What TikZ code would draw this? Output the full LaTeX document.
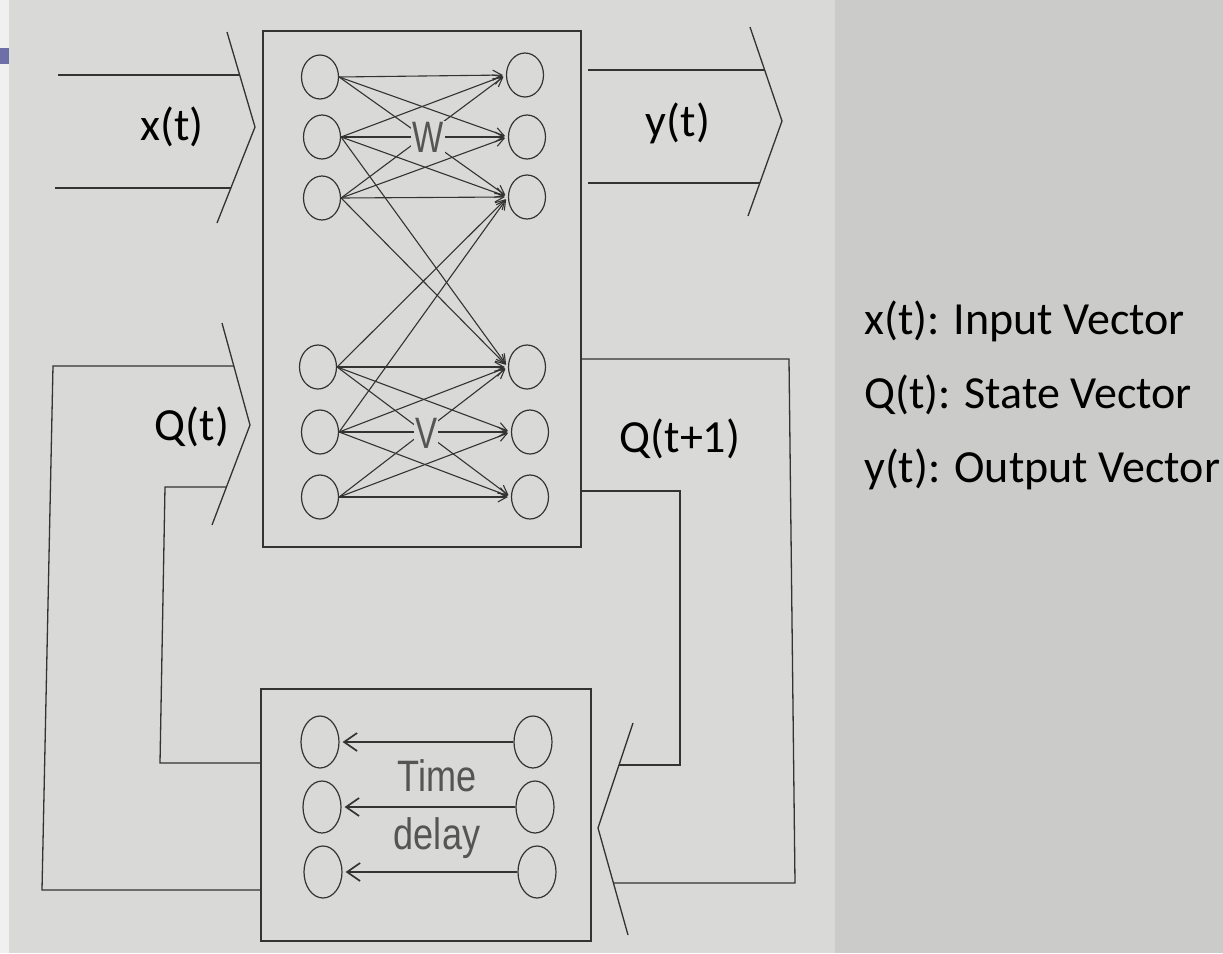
\documentclass[tikz,border=0pt]{standalone}
\usepackage{fontspec}
\usepackage{graphicx}
\usetikzlibrary{shapes.geometric,arrows.meta}
\newfontfamily\calfont{Carlito}
\newfontfamily\helvfont{Liberation Sans}
\definecolor{paper}{HTML}{D9D9D7}
\definecolor{paperdark}{HTML}{CBCBC9}
\definecolor{ink}{HTML}{333333}
\definecolor{greyink}{HTML}{555555}
\definecolor{slidebar}{HTML}{6E6EA8}
\tikzset{
  neuron/.style={ellipse, draw=ink, line width=1.2pt, minimum width=37pt, minimum height=44pt, inner sep=0pt},
  dneuron/.style={neuron, minimum width=38pt, minimum height=52pt},
  conn/.style={draw=ink, line width=1.1pt, -{Straight Barb[length=9pt,width=10pt]}, shorten >=3pt},
  dconn/.style={draw=ink, line width=1.7pt, -{Straight Barb[length=13pt,width=18pt]}, shorten >=3pt},
  wire/.style={draw=ink, line width=1.3pt},
  frame/.style={draw=ink, line width=1.7pt, rectangle, inner sep=0pt, anchor=north west},
  sig/.style={font=\calfont\fontsize{46}{54}\selectfont, text=black, inner sep=0pt},
  legend/.style={font=\calfont\fontsize{46}{55}\selectfont, text=black, inner sep=0pt, anchor=west},
  mlabel/.style={font=\helvfont\fontsize{44}{50}\selectfont, text=greyink, inner sep=1pt},
}
\begin{document}
\begin{tikzpicture}[x=1pt,y=-1pt]
\useasboundingbox (0,0) rectangle (1223,953);
% background
\fill[paper] (0,0) rectangle (1223,953);
\fill[paperdark] (835,0) rectangle (1223,953);
\fill[white!88!gray] (0,0) rectangle (9,953);
\fill[slidebar] (0,48) rectangle (9,64);

% network box
\node[frame, minimum width=318pt, minimum height=516pt] (net) at (262,30) {};
% delay box
\node[frame, minimum width=330pt, minimum height=252pt] (delay) at (260,688) {};

% neurons, W group
\node[neuron] (a1) at (320,77) {};
\node[neuron] (a2) at (322,137) {};
\node[neuron] (a3) at (322,198) {};
\node[neuron] (b1) at (525,75) {};
\node[neuron] (b2) at (527,137) {};
\node[neuron] (b3) at (527,197) {};
% V group
\node[neuron] (c1) at (318,367) {};
\node[neuron] (c2) at (320,432) {};
\node[neuron] (c3) at (320,497) {};
\node[neuron] (d1) at (527,367) {};
\node[neuron] (d2) at (530,432) {};
\node[neuron] (d3) at (530,497) {};
% delay neurons
\node[dneuron] (e1) at (320,742) {};
\node[dneuron] (e2) at (322,807) {};
\node[dneuron] (e3) at (323,872) {};
\node[dneuron] (f1) at (533,742) {};
\node[dneuron] (f2) at (535,807) {};
\node[dneuron] (f3) at (537,872) {};

% connections
\foreach \i in {1,2,3}{
  \foreach \j in {1,2,3}{
    \draw[conn] (a\i.east) -- (b\j.west);
    \draw[conn] (c\i.east) -- (d\j.west);
  }
}
\draw[conn] (a2.east) -- (d1.west);
\draw[conn] (a3.east) -- (d1.west);
\draw[conn] (c1.east) -- (b3.west);
\draw[conn] (c2.east) -- (b3.west);

\node[mlabel, fill=paper] (W) at (428,137) {\scalebox{0.75}[1]{W}};
\node[mlabel, fill=paper] (V) at (426,433) {\scalebox{0.75}[1]{V}};

% delay connections
\foreach \i in {1,2,3}{
  \draw[dconn] (f\i.west) -- (e\i.east);
}
\node[mlabel] (time) at (437,776) {\scalebox{0.82}[1]{Time}};
\node[mlabel] (dly) at (437,838) {\scalebox{0.82}[1]{delay}};

% chevrons
\draw[wire] (227,32) -- (255,127) -- (217,223);
\draw[wire] (222,323) -- (250,425) -- (212,525);
\draw[wire] (750,27) -- (782,121) -- (748,216);
\draw[wire] (633,723) -- (598,828) -- (628,935);

% input / output lines
\coordinate (xin1) at (58,75);
\coordinate (xin2) at (55,188);
\coordinate (xc1) at (240,75);
\coordinate (xc2) at (231,188);
\draw[wire] (xin1) -- (xc1);
\draw[wire] (xin2) -- (xc2);
\coordinate (yo1) at (588,70);
\coordinate (yo2) at (588,183);
\coordinate (yc1) at (765,70);
\coordinate (yc2) at (760,183);
\draw[wire] (yo1) -- (yc1);
\draw[wire] (yo2) -- (yc2);

% feedback loops
\coordinate (qo) at (234,366);
\coordinate (qi) at (226,487);
\coordinate (dlo) at (260,890);
\coordinate (dli) at (260,763);
\coordinate (ro) at (580,359);
\coordinate (ri) at (580,491);
\coordinate (dco) at (613,883);
\coordinate (dci) at (619,765);
\draw[wire] (dlo) -- (42,890) -- (53,366) -- (qo);
\draw[wire] (dli) -- (160,763) -- (165,487) -- (qi);
\draw[wire] (ro) -- (789,359) -- (795,883) -- (dco);
\draw[wire] (ri) -- (680,491) -- (680,765) -- (dci);

% signal labels
\node[sig] (xl) at (172,127) {x(t)};
\node[sig] (ql) at (192,427) {Q(t)};
\node[sig] (yl) at (678,123) {y(t)};
\node[sig] (qnl) at (680,439) {Q(t+1)};

% legend
\node[legend] (lg1) at (864,321) {x(t): Input Vector};
\node[legend] (lg2) at (864,395) {Q(t): State Vector};
\node[legend] (lg3) at (864,469) {y(t): Output Vector};
\end{tikzpicture}
\end{document}
